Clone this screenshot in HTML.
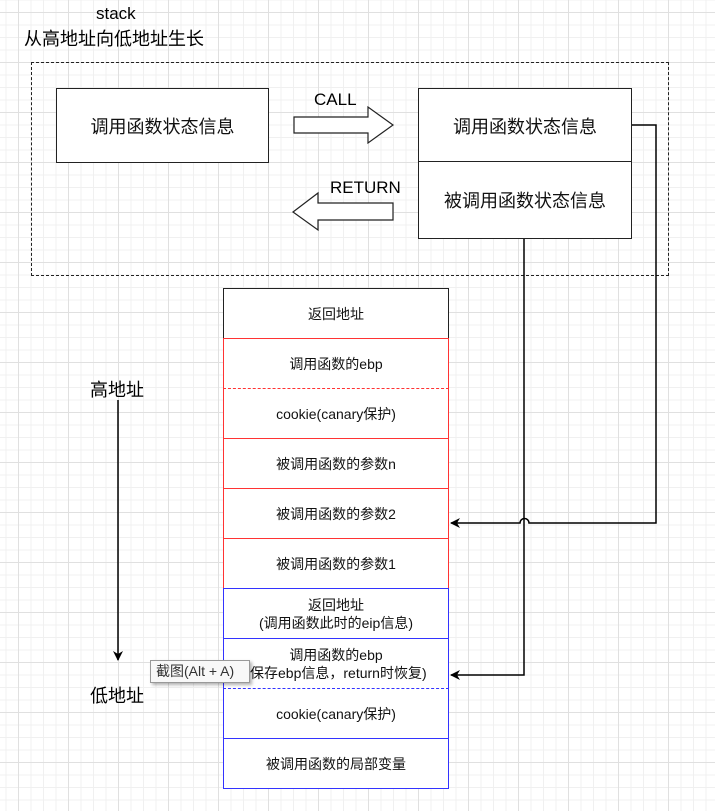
<!DOCTYPE html>
<html><head><meta charset="utf-8"><style>
body{margin:0;width:715px;height:811px;overflow:hidden;font-family:"Liberation Sans","Noto Sans CJK SC",sans-serif;
background-color:#fff;
background-image:linear-gradient(#e0e0e0 1px,transparent 1px),linear-gradient(90deg,#e0e0e0 1px,transparent 1px),linear-gradient(#f0f0f0 1px,transparent 1px),linear-gradient(90deg,#f0f0f0 1px,transparent 1px);
background-size:50px 50px,50px 50px,12.5px 12.5px,12.5px 12.5px;
background-position:0 12px,18px 0,0 12px,18px 0;}
.a{position:absolute;}
.box{position:absolute;box-sizing:border-box;display:flex;align-items:center;justify-content:center;text-align:center;font-size:18px;color:#111;background:#fff}
.r{position:absolute;left:223px;width:226px;height:51px;box-sizing:border-box;display:flex;align-items:center;justify-content:center;text-align:center;font-size:14px;line-height:18px;color:#111;background:#fff}
</style></head><body>
<div class="a" style="left:96px;top:4px;font-size:17px">stack</div>
<div class="a" style="left:24px;top:25px;font-size:18px">从高地址向低地址生长</div>
<div class="a" style="left:31px;top:62px;width:636px;height:212px;border:1px dashed #222"></div>
<div class="box" style="left:56px;top:88px;width:213px;height:75px;border:1.5px solid #222">调用函数状态信息</div>
<div class="box" style="left:418px;top:88px;width:214px;height:75px;border:1.5px solid #222">调用函数状态信息</div>
<div class="box" style="left:418px;top:161px;width:214px;height:78px;border:1.5px solid #222">被调用函数状态信息</div>
<div class="a" style="left:314px;top:90px;font-size:17px">CALL</div>
<div class="a" style="left:330px;top:178px;font-size:17px">RETURN</div>
<svg class="a" style="left:0;top:0" width="715" height="811">
<defs><marker id="m" markerWidth="10" markerHeight="10" refX="9" refY="5" orient="auto" markerUnits="userSpaceOnUse"><path d="M0,0 L10,5 L0,10 L3,5z" fill="#000"/></marker></defs>
<path d="M294,117 H368 V107 L393,125 L368,143 V133 H294Z" fill="#fff" stroke="#222" stroke-width="1.2"/>
<path d="M393,203 H318 V193 L293,212 L318,230 V220 H393Z" fill="#fff" stroke="#222" stroke-width="1.2"/>
<path d="M632,125 H656 V523 H529 A4,4 0 0 0 520,523 H451" fill="none" stroke="#000" stroke-width="1.5" marker-end="url(#m)"/>
<path d="M524,239 V675 H451" fill="none" stroke="#000" stroke-width="1.5" marker-end="url(#m)"/>
<path d="M118,400 V660" stroke="#000" stroke-width="1.5" marker-end="url(#m)"/>
</svg>
<div class="a" style="left:90px;top:376px;font-size:18px">高地址</div>
<div class="a" style="left:90px;top:682px;font-size:18px">低地址</div>
<div class="r" style="top:288px;border:1px solid #222">返回地址</div>
<div class="r" style="top:338px;border:1px solid #f33">调用函数的ebp</div>
<div class="r" style="top:388px;border:1px solid #f33;border-style:dashed solid">cookie(canary保护)</div>
<div class="r" style="top:438px;border:1px solid #f33">被调用函数的参数n</div>
<div class="r" style="top:488px;border:1px solid #f33">被调用函数的参数2</div>
<div class="r" style="top:538px;border:1px solid #f33">被调用函数的参数1</div>
<div class="r" style="top:588px;border:1.5px solid #33f">返回地址<br>(调用函数此时的eip信息)</div>
<div class="r" style="top:638px;border:1.5px solid #33f">调用函数的ebp<br>(保存ebp信息，return时恢复)</div>
<div class="r" style="top:688px;border:1.5px solid #33f;border-style:dashed solid">cookie(canary保护)</div>
<div class="r" style="top:738px;border:1.5px solid #33f">被调用函数的局部变量</div>
<div class="a" style="left:150px;top:660px;width:100px;height:23px;box-sizing:border-box;border:1px solid #999;background:#f8f8f8;font-size:14px;line-height:21px;padding-left:5px;box-shadow:2px 2px 3px rgba(0,0,0,.3);color:#333">截图(Alt + A)</div>
</body></html>
